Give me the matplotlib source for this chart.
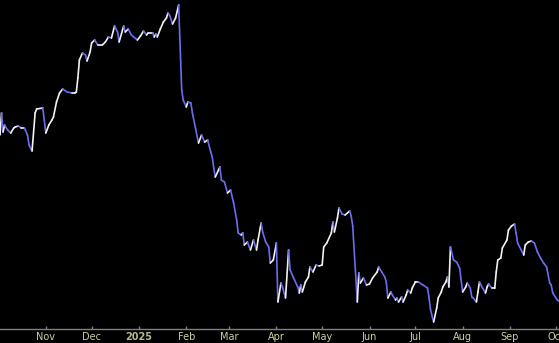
import matplotlib
matplotlib.use("Agg")
import matplotlib.pyplot as plt
import matplotlib.dates as mdates
from matplotlib.collections import LineCollection
import numpy as np
import pandas as pd

start_date = "2024-10-02"
# day offsets from start_date
days = [0, 1, 2, 3, 5, 7, 9, 10, 12, 14, 16, 18, 19, 21, 23, 24, 28, 29, 30, 32,
        34, 35, 37, 39, 41, 44, 47, 49, 50, 51, 52, 54, 56, 57, 59, 60, 62, 64, 67, 69,
        71, 73, 75, 77, 78, 81, 82, 84, 86, 90, 92, 94, 96, 97, 100, 101, 102, 103, 105, 107,
        109, 110, 111, 113, 115, 117, 119, 120, 122, 123, 125, 126, 128, 130, 132, 134, 136, 138, 139, 140,
        141, 144, 145, 147, 149, 151, 153, 155, 156, 158, 159, 160, 162, 164, 166, 168, 169, 171, 172, 174,
        176, 177, 179, 181, 182, 184, 185, 187, 189, 190, 192, 195, 196, 197, 198, 200, 202, 203, 205, 207,
        209, 211, 212, 214, 217, 218, 219, 221, 222, 224, 226, 229, 230, 231, 234, 235, 236, 238, 240, 242,
        244, 247, 248, 250, 252, 253, 254, 256, 257, 259, 260, 261, 263, 264, 266, 267, 269, 270, 272, 274,
        277, 280, 281, 282, 284, 286, 287, 289, 290, 292, 293, 294, 295, 297, 299, 301, 302, 303, 305, 306,
        308, 309, 310, 312, 313, 314, 316, 318, 319, 320, 322, 324, 325, 326, 328, 329, 332, 333, 335, 337,
        338, 339, 342, 343, 344, 346, 348, 350, 352, 354, 356, 358, 360, 361, 362, 365, 366]

# pixel heights above the baseline
values = [194, 216, 197, 204, 199, 196, 201, 202, 203, 201, 201, 194, 184, 178, 216, 220, 221, 209, 196, 204,
          209, 212, 227, 236, 240, 237, 236, 236, 237, 251, 269, 276, 274, 268, 277, 286, 289, 284, 284, 287,
          292, 291, 303, 297, 287, 303, 297, 300, 294, 289, 293, 298, 294, 296, 296, 292, 295, 292, 300, 307,
          311, 316, 314, 305, 311, 324, 239, 229, 222, 227, 226, 216, 201, 186, 194, 187, 189, 177, 172, 161,
          152, 162, 149, 147, 136, 139, 126, 109, 96, 94, 96, 84, 87, 79, 89, 79, 89, 106, 97, 87,
          82, 66, 69, 86, 27, 46, 42, 31, 79, 59, 52, 42, 36, 44, 37, 47, 52, 62, 57, 64,
          63, 64, 82, 86, 96, 107, 97, 111, 121, 115, 114, 118, 113, 103, 27, 56, 46, 51, 44, 45,
          51, 57, 62, 57, 52, 47, 31, 37, 34, 29, 31, 27, 32, 27, 34, 39, 36, 41, 47, 47,
          44, 41, 31, 19, 7, 21, 31, 37, 42, 47, 52, 42, 82, 69, 67, 61, 49, 37, 42, 46,
          41, 32, 31, 27, 37, 47, 41, 36, 42, 45, 41, 41, 57, 69, 71, 81, 89, 99, 103, 105,
          96, 86, 77, 74, 84, 87, 88, 86, 77, 71, 66, 62, 46, 44, 36, 29, 28]

tick_dates = ["2024-11-01", "2024-12-01", "2025-01-01", "2025-02-01", "2025-03-01", "2025-04-01",
              "2025-05-01", "2025-06-01", "2025-07-01", "2025-08-01", "2025-09-01", "2025-10-01"]
tick_labels = ["Nov", "Dec", "2025", "Feb", "Mar", "Apr", "May", "Jun", "Jul", "Aug", "Sep", "Oct"]

t0 = pd.Timestamp(start_date)
dates = t0 + pd.to_timedelta(days, unit="D")
xs = mdates.date2num(dates.to_pydatetime())
ys = np.array(values, dtype=float)

fig = plt.figure(figsize=(5.59, 3.43), dpi=100, facecolor="black")
ax = fig.add_axes([0, 14 / 343, 1, 1 - 14 / 343])
ax.set_facecolor("black")

pts = np.column_stack([xs, ys])
segs = np.stack([pts[:-1], pts[1:]], axis=1)
up_col = "#f2f2f2"
dn_col = "#6c6cf0"
cols = [up_col if ys[i + 1] >= ys[i] else dn_col for i in range(len(ys) - 1)]
lc = LineCollection(segs, colors=cols, linewidths=1.2, capstyle="round", joinstyle="round")
ax.add_collection(lc)

ax.set_xlim(mdates.date2num(t0), mdates.date2num(t0 + pd.Timedelta(days=366.1)))
ax.set_ylim(0, 329)

for s in ["top", "left", "right"]:
    ax.spines[s].set_visible(False)
ax.spines["bottom"].set_color("#808080")
ax.spines["bottom"].set_linewidth(1.0)
ax.set_yticks([])

tick_x = mdates.date2num(pd.to_datetime(tick_dates).to_pydatetime())
ax.set_xticks(tick_x)
ax.set_xticklabels(tick_labels)
ax.tick_params(axis="x", colors="#808080", direction="in", length=2, width=1, pad=2,
               labelsize=7, labelcolor="#cfcf9a")
for lbl in ax.get_xticklabels():
    if lbl.get_text() == "2025":
        lbl.set_fontweight("bold")
        lbl.set_color("#b8b88a")

fig.savefig("out.png", dpi=100, facecolor="black")
